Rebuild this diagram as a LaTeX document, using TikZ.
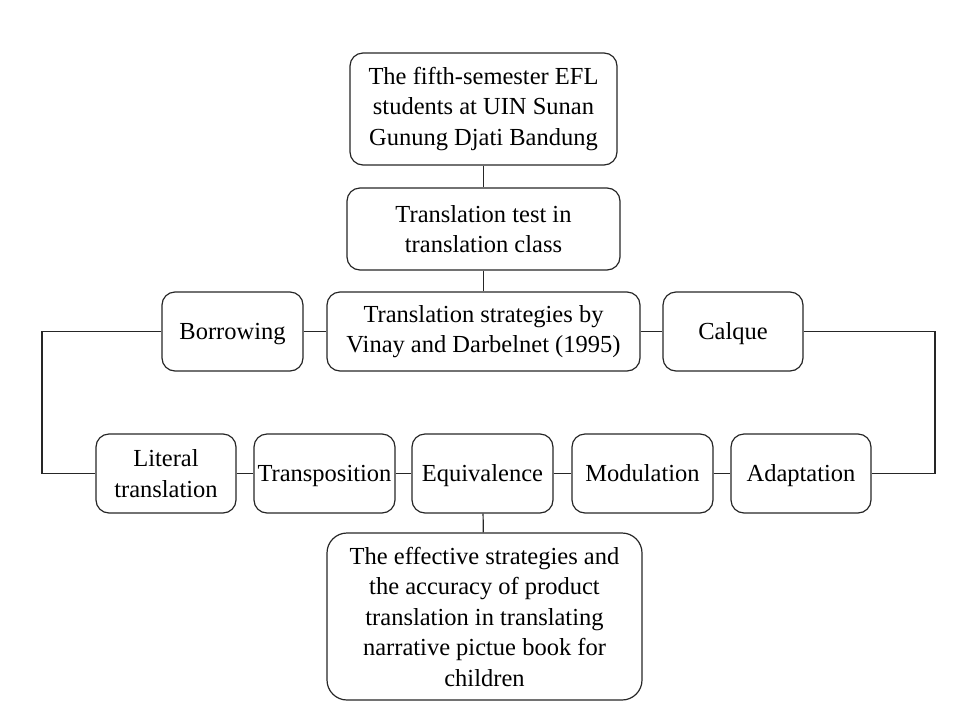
\documentclass[tikz,border=0pt]{standalone}
\usepackage{fontspec}
\setmainfont{Liberation Serif}
\usepackage{tikz}

\begin{document}
\begin{tikzpicture}[x=1pt,y=-1pt,
    box/.style={draw=black!85,line width=1.2pt,rounded corners=13pt,align=center,inner sep=0pt,
      font=\fontsize{24.5}{30.5}\selectfont},
    oneline/.style={box,text height=20pt,text depth=4pt},
    link/.style={draw=black!85,line width=1.2pt}]
      \useasboundingbox (0,0) rectangle (969,702);
      \node[box,minimum width=267,minimum height=112] (students) at (483.5,109) {The fifth-semester EFL\\students at UIN Sunan\\Gunung Djati Bandung};
      \node[box,minimum width=273,minimum height=82] (test) at (483.5,229) {Translation test in\\translation class};
      \node[box,minimum width=313,minimum height=79] (strategies) at (483.5,331.5) {Translation strategies by\\Vinay and Darbelnet (1995)};
      \node[oneline,minimum width=141,minimum height=79] (borrow) at (232.5,331.5) {Borrowing};
      \node[oneline,minimum width=140,minimum height=79] (calque) at (733,331.5) {Calque};
      \node[box,minimum width=140,minimum height=79] (literal) at (166,473.5) {Literal\\translation};
      \node[oneline,minimum width=141,minimum height=79] (transp) at (324.5,473.5) {Transposition};
      \node[oneline,minimum width=141,minimum height=79] (equiv) at (482.5,473.5) {Equivalence};
      \node[oneline,minimum width=141,minimum height=79] (modul) at (642.5,473.5) {Modulation};
      \node[oneline,minimum width=140,minimum height=79] (adapt) at (801,473.5) {Adaptation};
      \node[box,rounded corners=20pt,minimum width=315,minimum height=167] (result) at (484.5,616.5) {The effective strategies and\\the accuracy of product\\translation in translating\\narrative pictue book for\\children};
      \coordinate (lturn) at (42,331.5);
      \coordinate (rturn) at (935,331.5);
      \draw[link] (students) -- (test);
      \draw[link] (test) -- (strategies);
      \draw[link] (borrow) -- (strategies);
      \draw[link] (strategies) -- (calque);
      \draw[link] (borrow.west) -- (lturn) |- (literal.west);
      \draw[link] (calque.east) -- (rturn) |- (adapt.east);
      \draw[link] (literal) -- (transp);
      \draw[link] (transp) -- (equiv);
      \draw[link] (equiv) -- (modul);
      \draw[link] (modul) -- (adapt);
      \draw[link] (equiv) -- (result);
\end{tikzpicture}
\end{document}
